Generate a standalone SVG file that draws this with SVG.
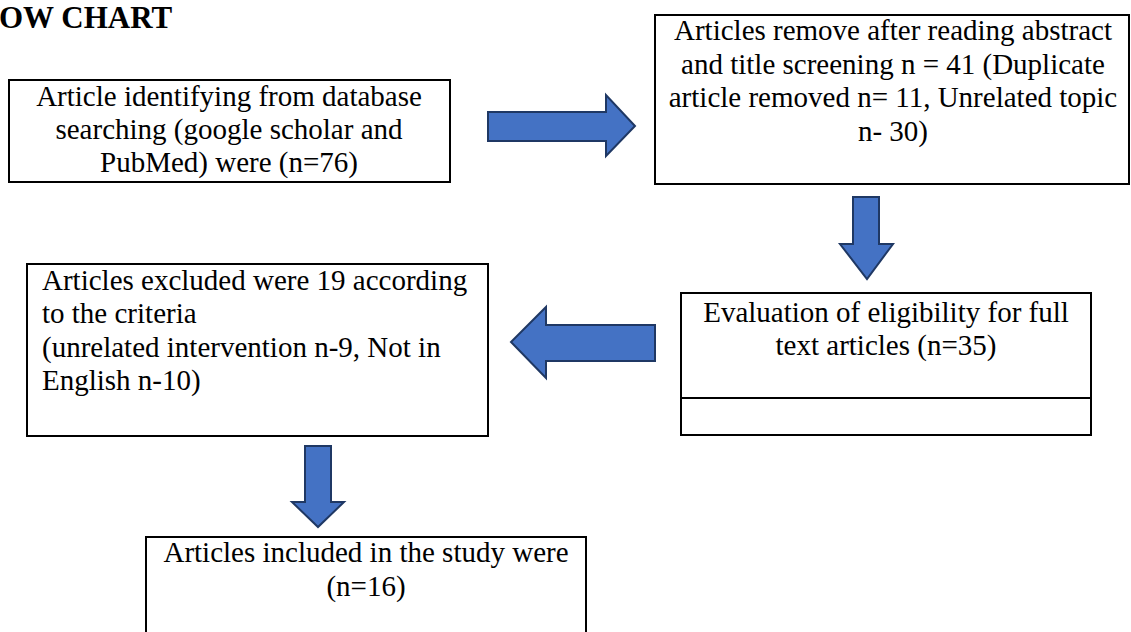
<svg xmlns="http://www.w3.org/2000/svg" width="1131" height="632" viewBox="0 0 1131 632">
<style>
.box{fill:#fff;stroke:#000;stroke-width:2}
.arrow{fill:#4472C4;stroke:#1F3864;stroke-width:2;stroke-linejoin:miter}
</style>
<rect width="1131" height="632" fill="#fff"/>
<g font-family="Liberation Serif" font-size="29" fill="#000">
<text x="-1" y="28" font-size="31" font-weight="bold">OW CHART</text>
<g id="n1">
<rect class="box" x="9" y="80" width="441" height="102"/>
<g text-anchor="middle">
<text x="229" y="106">Article identifying from database</text>
<text x="229" y="139">searching (google scholar and</text>
<text x="229" y="172">PubMed) were (n=76)</text>
</g>
</g>
<g id="n2">
<rect class="box" x="655" y="15" width="474" height="169"/>
<g text-anchor="middle">
<text x="893" y="40">Articles remove after reading abstract</text>
<text x="893" y="74">and title screening n = 41 (Duplicate</text>
<text x="893" y="107">article removed n= 11, Unrelated topic</text>
<text x="893" y="141">n- 30)</text>
</g>
</g>
<g id="n3">
<rect class="box" x="681" y="293" width="410" height="142"/>
<line x1="681" y1="398" x2="1091" y2="398" stroke="#000" stroke-width="2"/>
<g text-anchor="middle">
<text x="886" y="322">Evaluation of eligibility for full</text>
<text x="886" y="355">text articles (n=35)</text>
</g>
</g>
<g id="n4">
<rect class="box" x="27" y="264" width="461" height="172"/>
<text x="42" y="290">Articles excluded were 19 according</text>
<text x="42" y="323">to the criteria</text>
<text x="42" y="357">(unrelated intervention n-9, Not in</text>
<text x="42" y="390">English n-10)</text>
</g>
<g id="n5">
<rect class="box" x="146" y="537" width="440" height="110"/>
<g text-anchor="middle">
<text x="366" y="562">Articles included in the study were</text>
<text x="366" y="596">(n=16)</text>
</g>
</g>
</g>
<g id="connectors">
<polygon class="arrow" points="488,112 606,112 606,95 635,126 606,156 606,141 488,141"/>
<polygon class="arrow" points="853,197 879,197 879,244 893,244 867,279 840,244 853,244"/>
<polygon class="arrow" points="655,325 546,325 546,307 511,342 546,378 546,361 655,361"/>
<polygon class="arrow" points="305,446 331,446 331,502 344,502 318,527 292,502 305,502"/>
</g>
</svg>
